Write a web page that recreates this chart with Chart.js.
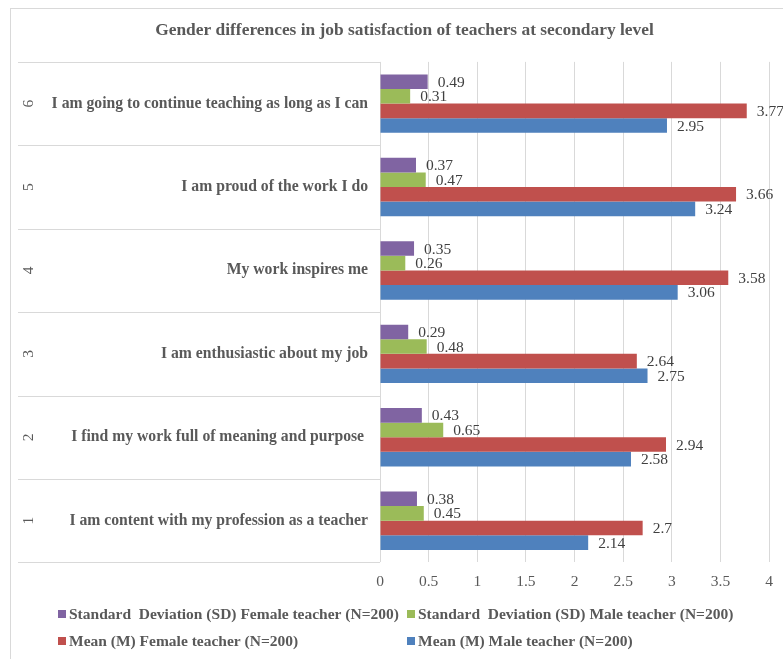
<!DOCTYPE html>
<html>
<head>
<meta charset="utf-8">
<script src="https://cdn.jsdelivr.net/npm/chart.js@4/dist/chart.umd.min.js"></script>
<style>
  html, body { margin: 0; padding: 0; background: #fff; }
  #wrap { width: 783px; height: 659px; position: relative; }
</style>
</head>
<body>
<div id="wrap"><canvas id="chart"></canvas></div>
<script>
// categories (top to bottom as shown)
const itemNumbers = ['6', '5', '4', '3', '2', '1'];
const statements = [
    'I am going to continue teaching as long as I can',
    'I am proud of the work I do',
    'My work inspires me',
    'I am enthusiastic about my job',
    'I find my work full of meaning and purpose ',
    'I am content with my profession as a teacher'
];

// series values
const sdFemale = [0.49, 0.37, 0.35, 0.29, 0.43, 0.38];
const sdMale = [0.31, 0.47, 0.26, 0.48, 0.65, 0.45];
const meanFemale = [3.77, 3.66, 3.58, 2.64, 2.94, 2.7];
const meanMale = [2.95, 3.24, 3.06, 2.75, 2.58, 2.14];

const seriesNames = [
    'Standard  Deviation (SD) Female teacher (N=200)',
    'Standard  Deviation (SD) Male teacher (N=200)',
    'Mean (M) Female teacher (N=200)',
    'Mean (M) Male teacher (N=200)'
];
const seriesColors = ['#8064A2', '#9BBB59', '#C0504D', '#4F81BD'];

// x axis ticks
const xMin = 0;
const xMax = 4;
const xStep = 0.5;

const SERIF = '"Liberation Serif", "Times New Roman", serif';

// background frame, separators in label area and rotated item numbers
const framePlugin = {
    id: 'framePlugin',
    beforeDraw(chart) {
        const ctx = chart.ctx;
        const area = chart.chartArea;
        const yScale = chart.scales.y;
        ctx.save();
        ctx.fillStyle = '#fff';
        ctx.fillRect(0, 0, chart.width, chart.height);
        ctx.strokeStyle = '#d9d9d9';
        ctx.lineWidth = 1;
        ctx.strokeRect(10.5, 8.5, chart.width + 20, chart.height + 20);

        // separators between categories
        const n = itemNumbers.length;
        for (let i = 0; i <= n; i++) {
            const y = Math.round(area.top + (area.bottom - area.top) * i / n) + 0.5;
            ctx.beginPath();
            ctx.moveTo(18, y);
            ctx.lineTo(area.left, y);
            ctx.stroke();
        }

        // rotated numbers
        ctx.fillStyle = '#595959';
        ctx.font = '15.5px ' + SERIF;
        ctx.textAlign = 'center';
        ctx.textBaseline = 'middle';
        itemNumbers.forEach((num, i) => {
            const y = yScale.getPixelForTick(i);
            ctx.save();
            ctx.translate(29, y);
            ctx.rotate(-Math.PI / 2);
            ctx.fillText(num, 0, 0);
            ctx.restore();
        });
        ctx.restore();
    }
};

// value labels at the bar ends
const valueLabels = {
    id: 'valueLabels',
    afterDatasetsDraw(chart) {
        const ctx = chart.ctx;
        ctx.save();
        ctx.fillStyle = '#404040';
        ctx.font = '15.5px ' + SERIF;
        ctx.textAlign = 'left';
        ctx.textBaseline = 'middle';
        chart.data.datasets.forEach((ds, di) => {
            const meta = chart.getDatasetMeta(di);
            meta.data.forEach((bar, i) => {
                ctx.fillText(String(ds.data[i]), bar.x + 10, bar.y + 1);
            });
        });
        ctx.restore();
    }
};

// legend laid out in a grid like the original
const gridLegend = {
    id: 'gridLegend',
    afterDraw(chart) {
        const ctx = chart.ctx;
        const cols = [58, 407];
        const rows = [614, 641];
        ctx.save();
        ctx.font = 'bold 15.5px ' + SERIF;
        ctx.textAlign = 'left';
        ctx.textBaseline = 'middle';
        chart.data.datasets.forEach((ds, i) => {
            const x = cols[i % 2];
            const y = rows[Math.floor(i / 2)];
            ctx.fillStyle = ds.backgroundColor;
            ctx.fillRect(x, y - 4, 8, 8);
            ctx.fillStyle = '#595959';
            ctx.fillText(ds.label, x + 11, y + 1);
        });
        ctx.restore();
    }
};

const seriesData = [sdFemale, sdMale, meanFemale, meanMale];

new Chart(document.getElementById('chart'), {
    type: 'bar',
    data: {
        labels: statements,
        datasets: seriesData.map((values, i) => ({
            label: seriesNames[i],
            data: values,
            backgroundColor: seriesColors[i],
            borderColor: seriesColors[i],
            borderWidth: 0,
            categoryPercentage: 0.7,
            barPercentage: 1.0
        }))
    },
    options: {
        indexAxis: 'y',
        responsive: true,
        maintainAspectRatio: false,
        animation: false,
        layout: {
            padding: { left: 34, right: 8, top: 0, bottom: 58 }
        },
        plugins: {
            legend: { display: false },
            tooltip: { enabled: false },
            title: {
                display: true,
                text: 'Gender differences in job satisfaction of teachers at secondary level',
                color: '#595959',
                font: { family: SERIF, size: 17.4, weight: 'bold' },
                padding: { top: 20, bottom: 21 }
            }
        },
        scales: {
            x: {
                min: xMin,
                max: xMax,
                ticks: {
                    stepSize: xStep,
                    color: '#595959',
                    font: { family: SERIF, size: 15.5 },
                    padding: 10,
                    callback: (v) => String(v)
                },
                grid: { color: '#d9d9d9', drawTicks: false },
                border: { display: false }
            },
            y: {
                ticks: {
                    color: '#595959',
                    font: { family: SERIF, size: 15.7, weight: 'bold' },
                    padding: 12
                },
                grid: { display: false, drawTicks: false },
                border: { display: false },
                afterFit(scale) { scale.width = 346; }
            }
        }
    },
    plugins: [framePlugin, valueLabels, gridLegend]
});
</script>
</body>
</html>
